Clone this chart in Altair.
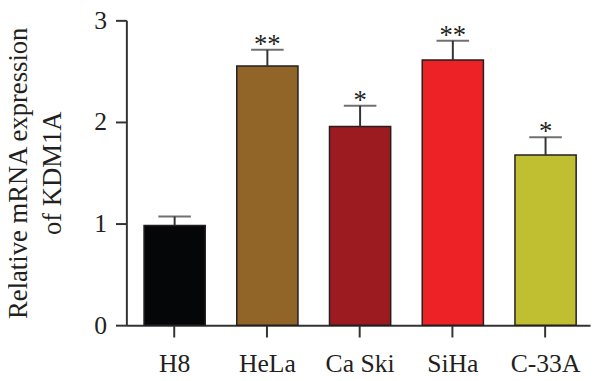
import altair as alt
import pandas as pd

categories = ["H8", "HeLa", "Ca Ski", "SiHa", "C-33A"]
means = [0.98, 2.55, 1.955, 2.61, 1.675]
upper = [1.07, 2.71, 2.16, 2.80, 1.85]
stars = ["", "**", "*", "**", "*"]
colors = ["#050608", "#916428", "#9c1b20", "#ec2227", "#c0bf32"]
y_ticks = [0, 1, 2, 3]

df = pd.DataFrame({"cat": categories, "mean": means, "upper": upper, "star": stars})

FONT = "Liberation Serif"

x_enc = alt.X(
    "cat:N",
    sort=categories,
    scale=alt.Scale(paddingInner=0.34, paddingOuter=0.17, align=0.56),
    axis=alt.Axis(title=None, labelAngle=0, labelPadding=14, tickSize=12),
)
y_scale = alt.Scale(domain=[0, 3], nice=False)

bars = alt.Chart(df).mark_bar(stroke="#231f20", strokeWidth=1.5).encode(
    x=x_enc,
    y=alt.Y(
        "mean:Q",
        scale=y_scale,
        axis=alt.Axis(
            values=y_ticks,
            format="d",
            title=["Relative mRNA expression", "of KDM1A"],
            titleFont=FONT,
            titleFontSize=27,
            titleFontWeight="normal",
            titleLineHeight=34,
            titlePadding=28,
            titleColor="#231f20",
            tickSize=11,
            labelPadding=9,
        ),
    ),
    color=alt.Color("cat:N", sort=categories,
                    scale=alt.Scale(domain=categories, range=colors), legend=None),
)

err = alt.Chart(df).mark_rule(color="#333333", strokeWidth=2).encode(
    x=alt.X("cat:N", sort=categories),
    y=alt.Y("mean:Q", scale=y_scale),
    y2="upper:Q",
)

cap = alt.Chart(df).mark_tick(color="#333333", thickness=2, size=33).encode(
    x=alt.X("cat:N", sort=categories),
    y=alt.Y("upper:Q", scale=y_scale),
)

txt = alt.Chart(df).mark_text(
    font=FONT, fontSize=27, color="#231f20", baseline="alphabetic", dy=3
).encode(
    x=alt.X("cat:N", sort=categories),
    y=alt.Y("upper:Q", scale=y_scale),
    text="star:N",
)

chart = (
    alt.layer(bars, err, cap, txt)
    .properties(
        width=470,
        height=309,
        autosize=alt.AutoSizeParams(type="none"),
        padding={"left": 120, "top": 10, "right": 2, "bottom": 50},
        background="white",
    )
    .configure_view(stroke=None)
    .configure_axis(
        grid=False,
        domainColor="#333333",
        domainWidth=2,
        tickColor="#333333",
        tickWidth=2,
        labelFont=FONT,
        labelFontSize=26,
        labelColor="#231f20",
    )
)

chart.save("out.html", embed_options={"renderer": "svg", "actions": False})
